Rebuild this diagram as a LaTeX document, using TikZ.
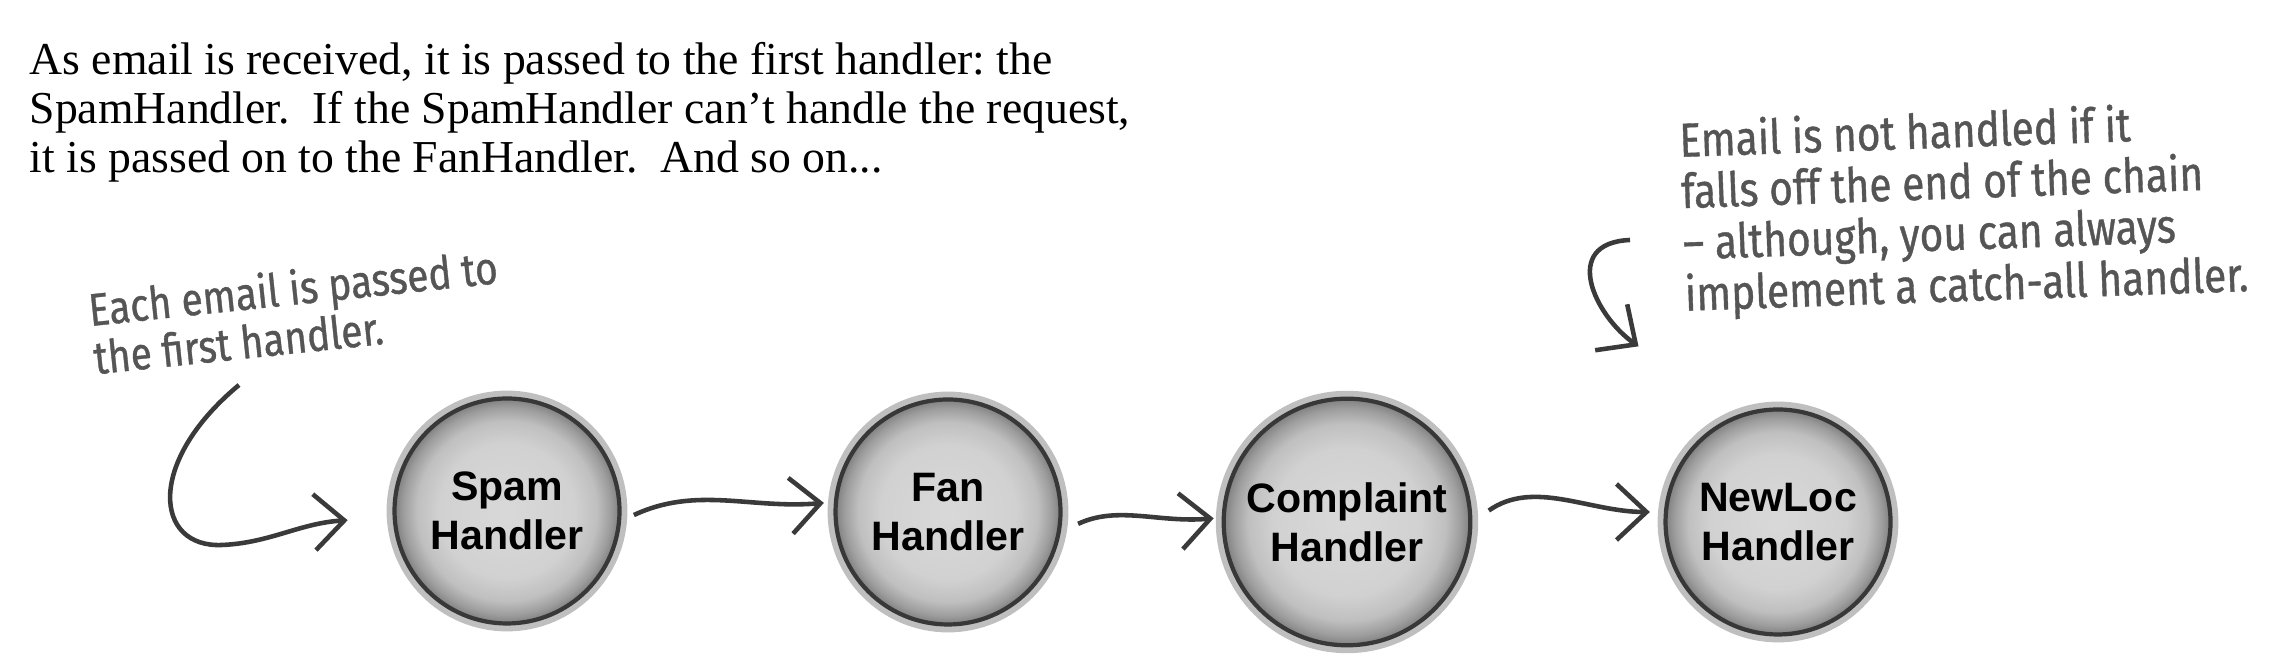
\documentclass[tikz,border=0pt]{standalone}
\usepackage{fontspec}
\setmainfont{Liberation Serif}
\newfontfamily\handfont[FakeStretch=0.85,FakeBold=0.8]{Fira Sans}
\newfontfamily\boldsans{Liberation Sans}
\usetikzlibrary{arrows.meta,shapes}
\definecolor{ink}{HTML}{3A3A3A}
\definecolor{pencil}{HTML}{555555}
\pgfdeclareradialshading{glassball}{\pgfpointorigin}{color(0bp)=(black!15); color(15bp)=(black!18); color(20bp)=(black!25); color(23bp)=(black!38); color(25bp)=(black!50); color(50bp)=(black!50)}
\tikzstyle{handler}=[circle,minimum size=2.25cm,draw=black!78,line width=1.2pt,shade,shading=glassball,preaction={draw=black!25,line width=4.5pt},align=center,font=\boldsans\bfseries\fontsize{11.7}{14}\selectfont]
\tikzstyle{note}=[align=left,text=pencil,inner sep=0pt,font=\handfont\fontsize{13}{13.8}\selectfont]
\tikzstyle{pass}=[-{Straight Barb[length=3mm,width=5.6mm]},draw=ink,line width=1.3pt]

\begin{document}
\begin{tikzpicture}
\useasboundingbox (0,0) rectangle (22.96,6.68);
\node[anchor=north west,align=left,inner sep=0pt,font=\frenchspacing\fontsize{13}{13.9}\selectfont] (intro) at (0.29,6.26) {As email is received, it is passed to the first handler: the\\SpamHandler.\ \ If the SpamHandler can’t handle the request,\\it is passed on to the FanHandler.\ \ And so on...};
\node[note,rotate=6,anchor=north west] (tipin) at (0.86,3.78) {Each email is passed to\\the first handler.};
\node[note,rotate=2,anchor=north west,font=\handfont\fontsize{13.6}{14.6}\selectfont] (tipout) at (16.78,5.49) {Email is not handled if it\\falls off the end of the chain\\– although, you can always\\implement a catch-all handler.};
\node[handler] (spam) at (5.07,1.57) {Spam\\Handler};
\node[handler] (fan) at (9.48,1.56) {Fan\\Handler};
\node[handler] (complaint) at (13.47,1.46) {Complaint\\Handler};
\node[handler] (newloc) at (17.78,1.46) {NewLoc\\Handler};
\coordinate (inbox) at (2.39,2.83);
\coordinate (falloff) at (16.30,4.28);
\draw[pass,shorten >=0.45cm] (inbox) .. controls (1.45,2.05) and (1.55,1.2) .. (2.22,1.23) .. controls (2.7,1.25) and (3.0,1.45) .. (spam);
\draw[pass,shorten <=0.14cm,shorten >=0.1cm] (spam.-5) to[out=25,in=185] (fan.175);
\draw[pass,shorten <=0.19cm,shorten >=0.08cm] (fan.-10) to[out=25,in=185] (complaint.178);
\draw[pass,shorten <=0.2cm,shorten >=0.14cm] (complaint.east) to[out=35,in=180] (newloc.175);
\draw[pass,shorten >=1.2cm] (falloff) .. controls (15.6,4.25) and (15.95,3.52) .. (newloc.111);
\end{tikzpicture}
\end{document}
